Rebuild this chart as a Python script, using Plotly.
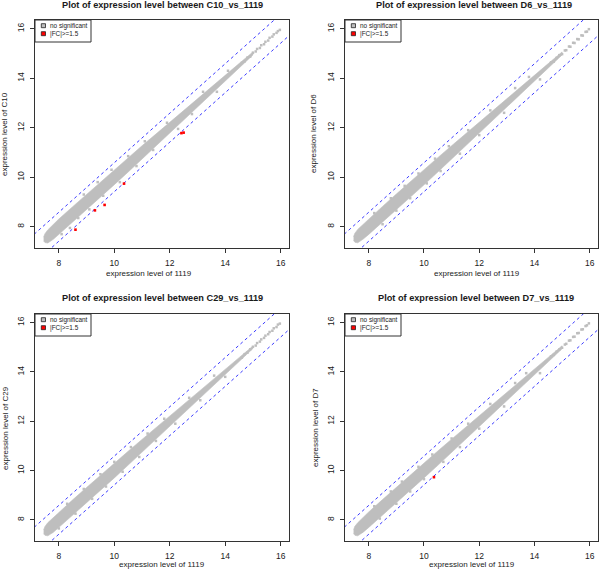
import math
import plotly.graph_objects as go

W, H = 600, 569

# ---------------- data ----------------
samples = ["C10", "D6", "C29", "D7"]
ref_sample = "1119"
fc_cut = 1.5

# dense core of the scatter (envelope of the point cloud), x = expression of 1119
band_x = [7.45, 7.5, 7.6, 7.8, 8.0, 8.5, 9.0, 9.5, 10.0, 10.5, 11.0, 11.5, 12.0, 12.5, 13.0, 13.5, 14.0, 14.5, 15.0]
band_upper = {
    "C10": [7.58, 7.72, 7.87, 8.09, 8.31, 8.81, 9.31, 9.81, 10.30, 10.79, 11.27, 11.74, 12.22, 12.70, 13.17, 13.65, 14.12, 14.59, 15.06],
    "D6":  [7.60, 7.74, 7.89, 8.10, 8.32, 8.82, 9.32, 9.82, 10.31, 10.79, 11.27, 11.75, 12.23, 12.70, 13.18, 13.65, 14.12, 14.59, 15.06],
    "C29": [7.59, 7.73, 7.88, 8.09, 8.31, 8.81, 9.31, 9.81, 10.30, 10.78, 11.26, 11.74, 12.22, 12.69, 13.17, 13.64, 14.11, 14.58, 15.05],
    "D7":  [7.60, 7.74, 7.88, 8.10, 8.32, 8.82, 9.32, 9.81, 10.30, 10.79, 11.27, 11.75, 12.22, 12.70, 13.17, 13.65, 14.12, 14.59, 15.06],
}
band_lower = {
    "C10": [7.42, 7.36, 7.34, 7.49, 7.69, 8.19, 8.69, 9.19, 9.70, 10.21, 10.73, 11.26, 11.78, 12.30, 12.83, 13.35, 13.88, 14.41, 14.94],
    "D6":  [7.44, 7.37, 7.35, 7.50, 7.69, 8.18, 8.68, 9.18, 9.69, 10.21, 10.73, 11.25, 11.77, 12.30, 12.82, 13.35, 13.88, 14.41, 14.94],
    "C29": [7.43, 7.37, 7.35, 7.49, 7.69, 8.19, 8.69, 9.19, 9.70, 10.22, 10.74, 11.26, 11.78, 12.31, 12.83, 13.36, 13.89, 14.42, 14.95],
    "D7":  [7.44, 7.37, 7.35, 7.50, 7.69, 8.18, 8.68, 9.19, 9.70, 10.21, 10.73, 11.25, 11.78, 12.30, 12.83, 13.35, 13.88, 14.41, 14.94],
}

# sparse high-expression streak
streak_x = [14.6, 14.7, 14.8, 14.9, 15.0, 15.1, 15.15, 15.25, 15.3, 15.4, 15.45, 15.55, 15.6, 15.7, 15.75, 15.85, 15.9, 15.97]
streak_y = {
    "C10": [14.62, 14.68, 14.83, 14.87, 15.03, 15.08, 15.18, 15.22, 15.33, 15.37, 15.47, 15.52, 15.63, 15.68, 15.77, 15.83, 15.90, 15.95],
    "D6":  [14.64, 14.67, 14.82, 14.93, 14.97, 15.12, 15.13, 15.28, 15.27, 15.43, 15.42, 15.58, 15.57, 15.73, 15.72, 15.87, 15.88, 15.98],
    "C29": [14.58, 14.72, 14.78, 14.92, 15.02, 15.07, 15.17, 15.23, 15.32, 15.38, 15.47, 15.53, 15.62, 15.67, 15.77, 15.82, 15.92, 15.96],
    "D7":  [14.63, 14.69, 14.82, 14.91, 14.98, 15.11, 15.14, 15.27, 15.28, 15.42, 15.43, 15.57, 15.58, 15.72, 15.73, 15.86, 15.89, 15.97],
}

# scattered non-significant points off the core
out_x = {
    "C10": [8.1, 8.4, 8.7, 8.9, 9.1, 9.4, 9.6, 9.9, 10.2, 10.5, 10.8, 11.1, 11.4, 11.9, 12.3, 12.8, 13.2, 13.7, 14.1],
    "D6":  [8.2, 8.5, 8.8, 9.0, 9.3, 9.5, 9.8, 10.1, 10.4, 10.6, 10.9, 11.3, 11.6, 12.0, 12.4, 12.9, 13.3, 13.8, 14.2],
    "C29": [8.0, 8.3, 8.6, 8.9, 9.2, 9.5, 9.7, 10.0, 10.3, 10.6, 10.9, 11.2, 11.5, 11.8, 12.2, 12.7, 13.1, 13.6, 14.0],
    "D7":  [8.2, 8.4, 8.8, 9.0, 9.2, 9.5, 9.8, 10.0, 10.3, 10.7, 11.0, 11.3, 11.6, 12.0, 12.4, 12.9, 13.3, 13.7, 14.2],
}
out_y = {
    "C10": [7.70, 7.95, 8.35, 9.30, 8.70, 9.80, 9.25, 10.30, 9.80, 10.85, 10.45, 11.45, 11.10, 12.20, 11.95, 12.55, 13.45, 13.45, 14.30],
    "D6":  [8.55, 8.10, 9.15, 8.65, 9.65, 9.15, 10.15, 9.75, 10.75, 10.25, 11.25, 10.95, 11.90, 11.70, 12.70, 12.60, 13.60, 14.05, 13.95],
    "C29": [7.65, 8.65, 8.25, 9.25, 8.85, 9.85, 9.35, 10.35, 9.95, 10.95, 10.55, 11.50, 11.20, 12.10, 11.90, 12.95, 12.85, 13.85, 13.80],
    "D7":  [8.55, 8.05, 9.15, 8.65, 9.55, 9.15, 10.15, 9.65, 10.65, 10.35, 11.30, 10.95, 11.90, 11.70, 12.70, 12.60, 13.55, 13.95, 13.95],
}

# significant points (|FC| >= 1.5)
sig_x = {"C10": [8.6, 9.3, 9.65, 10.35, 12.42, 12.5], "D6": [], "C29": [], "D7": [10.36]}
sig_y = {"C10": [7.88, 8.66, 8.88, 9.74, 11.78, 11.80], "D6": [], "C29": [], "D7": [9.73]}

tick_vals = [8, 10, 12, 14, 16]
tick_text = ["8", "10", "12", "14", "16"]

# ---------------- layout geometry (pixels) ----------------
boxes = [(35, 289, 20, 248), (345, 598, 20, 248), (35, 289, 314, 541), (345, 598, 314, 541)]
title_pos = [(162, 5), (474, 5), (162, 298), (476, 298)]
xlab_pos = [(149, 273), (477, 273), (162, 564), (472, 564)]
ylab_pos = [(5, 134), (314, 134), (5, 428), (315, 428)]
x_range = [7.14, 16.3]
y_range = [7.14, 16.35]

GRAY = "#BEBEBE"
FONT = "Liberation Sans, Arial, sans-serif"
TXT = "#1a1a1a"

fig = go.Figure()
shapes = []
annotations = []
lo_line = math.log2(fc_cut)
line_x = [x_range[0] - 1, x_range[1] + 1]

for i, s in enumerate(samples):
    xa = "x" if i == 0 else f"x{i+1}"
    ya = "y" if i == 0 else f"y{i+1}"
    # core cloud
    fig.add_trace(go.Scatter(
        x=band_x + band_x[::-1], y=band_upper[s] + band_lower[s][::-1],
        fill="toself", fillcolor=GRAY, line=dict(width=0.6, color=GRAY),
        mode="lines", hoverinfo="skip", showlegend=False, xaxis=xa, yaxis=ya))
    fig.add_trace(go.Scatter(
        x=out_x[s] + streak_x, y=out_y[s] + streak_y[s], mode="markers",
        marker=dict(symbol="square", size=2.5, color=GRAY, line=dict(width=0)),
        showlegend=False, xaxis=xa, yaxis=ya))
    # fold-change threshold lines
    for sign in (1, -1):
        fig.add_trace(go.Scatter(
            x=line_x, y=[v + sign * lo_line for v in line_x], mode="lines",
            line=dict(color="#3a3aff", width=1, dash="dot"),
            hoverinfo="skip", showlegend=False, xaxis=xa, yaxis=ya))
    fig.add_trace(go.Scatter(
        x=sig_x[s], y=sig_y[s], mode="markers",
        marker=dict(symbol="square", size=2.6, color="#ff0000", line=dict(width=0)),
        showlegend=False, xaxis=xa, yaxis=ya))

    x0, x1, y0, y1 = boxes[i]
    dom_x = [x0 / W, x1 / W]
    dom_y = [1 - y1 / H, 1 - y0 / H]
    axis_common = dict(
        showgrid=False, zeroline=False, showline=True, mirror=True,
        linecolor="#333333", linewidth=1, ticks="outside", ticklen=4,
        tickcolor="#333333", tickvals=tick_vals, ticktext=tick_text,
        tickfont=dict(family=FONT, size=8.5, color=TXT))
    fig.layout[f"xaxis{'' if i == 0 else i+1}"] = dict(
        domain=dom_x, range=x_range, anchor=ya, ticklabelstandoff=3, **axis_common)
    fig.layout[f"yaxis{'' if i == 0 else i+1}"] = dict(
        domain=dom_y, range=y_range, anchor=xa, tickangle=-90, ticklabelstandoff=3, **axis_common)

    # texts
    annotations.append(dict(text=f"<b>Plot of expression level between {s}_vs_{ref_sample}</b>",
                            x=title_pos[i][0] / W, y=1 - title_pos[i][1] / H, xref="paper", yref="paper",
                            showarrow=False, xanchor="center", yanchor="middle",
                            font=dict(family=FONT, size=9.2, color=TXT)))
    annotations.append(dict(text=f"expression level of {ref_sample}",
                            x=xlab_pos[i][0] / W, y=1 - xlab_pos[i][1] / H, xref="paper", yref="paper",
                            showarrow=False, xanchor="center", yanchor="middle",
                            font=dict(family=FONT, size=8, color=TXT)))
    annotations.append(dict(text=f"expression level of {s}", textangle=-90,
                            x=ylab_pos[i][0] / W, y=1 - ylab_pos[i][1] / H, xref="paper", yref="paper",
                            showarrow=False, xanchor="center", yanchor="middle",
                            font=dict(family=FONT, size=8, color=TXT)))

    # legend box (drawn like the R legend)
    pw, ph = x1 - x0, y1 - y0
    def fx(px):
        return px / pw
    def fy(py):
        return 1 - py / ph
    xd, yd = f"{xa} domain", f"{ya} domain"
    shapes.append(dict(type="rect", xref=xd, yref=yd, x0=fx(0), x1=fx(56), y0=fy(22), y1=fy(0),
                       line=dict(color="#333333", width=1), fillcolor="white", layer="above"))
    for k, (col, lab) in enumerate([(GRAY, "no significant"), ("#ff0000", "|FC|>=1.5")]):
        cy = 5.7 + 8 * k
        shapes.append(dict(type="rect", xref=xd, yref=yd, x0=fx(6.3), x1=fx(10.5),
                           y0=fy(cy + 2), y1=fy(cy - 2),
                           line=dict(color="#222222", width=0.8), fillcolor=col, layer="above"))
        annotations.append(dict(text=lab, xref=xd, yref=yd, x=fx(13.0), y=fy(cy),
                                showarrow=False, xanchor="left", yanchor="middle",
                                font=dict(family=FONT, size=6.4, color=TXT)))

fig.update_layout(
    width=W, height=H, margin=dict(l=0, r=0, t=0, b=0),
    paper_bgcolor="white", plot_bgcolor="white",
    shapes=shapes, annotations=annotations, showlegend=False)

# remove the browser's default 8px page margin so the figure fills the window exactly
fig.write_html("out.html", config={"displayModeBar": False},
               post_script="document.body.style.margin='0';document.body.style.overflow='hidden';")
